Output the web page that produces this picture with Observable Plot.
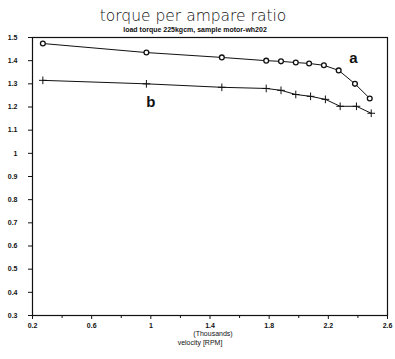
<!DOCTYPE html>
<html><head><meta charset="utf-8">
<script src="https://cdn.jsdelivr.net/npm/d3@7"></script>
<script src="https://cdn.jsdelivr.net/npm/@observablehq/plot@0.6"></script>
<style>
body{margin:0;background:#fff;}
svg{font-family:"Liberation Sans",Arial,sans-serif;}
</style>
</head><body>
<div id="chart"></div>
<script>
const title = "torque per ampare ratio";
const subtitle = "load torque 225kgcm, sample motor-wh202";
const xLabel1 = "(Thousands)";
const xLabel2 = "velocity [RPM]";
const xTicks = [0.2, 0.6, 1, 1.4, 1.8, 2.2, 2.6];
const xMinorTicks = [0.4, 0.8, 1.2, 1.6, 2.0, 2.4];
const yTicks = [0.3,0.4,0.5,0.6,0.7,0.8,0.9,1,1.1,1.2,1.3,1.4,1.5];
const velocityA = [0.27, 0.97, 1.48, 1.78, 1.88, 1.98, 2.07, 2.17, 2.27, 2.38, 2.48];
const ratioA    = [1.474, 1.435, 1.414, 1.40, 1.397, 1.392, 1.388, 1.38, 1.358, 1.30, 1.237];
const velocityB = [0.27, 0.97, 1.48, 1.78, 1.88, 1.98, 2.08, 2.18, 2.28, 2.39, 2.49];
const ratioB    = [1.315, 1.30, 1.285, 1.28, 1.272, 1.254, 1.246, 1.233, 1.203, 1.203, 1.173];
const labelA = {x: 2.37, y: 1.41, text: "a"};
const labelB = {x: 1.0, y: 1.222, text: "b"};

const A = velocityA.map((x,i)=>({x, y: ratioA[i]}));
const B = velocityB.map((x,i)=>({x, y: ratioB[i]}));

const chart = Plot.plot({
  width: 395, height: 359,
  marginLeft: 32, marginRight: 8, marginTop: 37, marginBottom: 44,
  style: {background: "#fff", color: "#111", fontSize: "7px"},
  x: {domain: [0.2, 2.6], ticks: xTicks, tickFormat: d => String(d), label: null},
  y: {domain: [0.3, 1.5], ticks: yTicks, tickFormat: d => String(d), label: null},
  marks: [
    Plot.frame({stroke: "#111", strokeWidth: 1.2}),
    Plot.axisX({ticks: xTicks, tickFormat: d => String(d), tickSize: 4, tickPadding: 4, fontWeight: "bold", label: null}),
    Plot.axisX({ticks: xMinorTicks, tickSize: 3, tickFormat: () => "", label: null}),
    Plot.axisY({ticks: yTicks, tickFormat: d => String(d), tickSize: 4, tickPadding: 11, fontWeight: "bold", label: null}),
    Plot.line(A, {x: "x", y: "y", stroke: "#111", strokeWidth: 1}),
    Plot.dot(A, {x: "x", y: "y", r: 2.4, stroke: "#111", strokeWidth: 1.3, fill: "#fff"}),
    Plot.line(B, {x: "x", y: "y", stroke: "#111", strokeWidth: 1}),
    Plot.dot(B, {x: "x", y: "y", symbol: "plus", r: 2.6, stroke: "#111", strokeWidth: 1}),
    Plot.text([labelA, labelB], {x: "x", y: "y", text: "text", fontSize: 15, fontWeight: "bold", fill: "#111"}),
    Plot.text([title], {frameAnchor: "top", dx: -17, dy: -28, fontSize: 15.5, text: d => d, fill: "#111", fontFamily: "DejaVu Sans", fontWeight: "300"}),
    Plot.text([subtitle], {frameAnchor: "top", dx: -15, dy: -10, fontSize: 7, text: d => d, fill: "#111", fontWeight: "bold"}),
    Plot.text([xLabel1], {frameAnchor: "bottom", dy: 20, dx: 3, fontSize: 7, text: d => d, fill: "#111"}),
    Plot.text([xLabel2], {frameAnchor: "bottom", dy: 29, dx: -10, fontSize: 7, text: d => d, fill: "#111"})
  ]
});
document.getElementById("chart").appendChild(chart);
</script>
</body></html>
